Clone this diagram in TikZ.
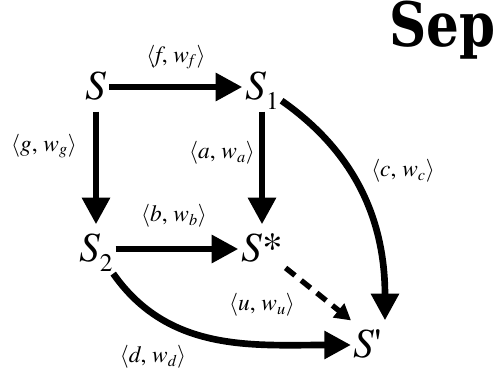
\documentclass[tikz,border=0pt]{standalone}
\usepackage{fontspec}
\setmainfont{texgyretermes}[Extension=.otf, UprightFont=*-regular, ItalicFont=*-italic, BoldFont=*-bold, BoldItalicFont=*-bolditalic, Ligatures=TeXOff]
\newfontfamily\slabfont{DejaVu Serif}
\usetikzlibrary{arrows.meta}
\newcommand{\wpair}[1]{$\langle$\textit{#1}, \textit{w}\textsubscript{\textit{#1}}$\rangle$}
\newcommand{\lowsub}[1]{\raisebox{-7.5pt}{\upshape\fontsize{19}{19}\selectfont #1}}

\begin{document}
\begin{tikzpicture}[x=0.75pt, y=-0.75pt,
  st/.style={font=\fontsize{31}{31}\selectfont\itshape, inner sep=2pt, text height=26pt, text depth=6.5pt},
  lbl/.style={font=\fontsize{17.5}{17.5}\selectfont, inner sep=1pt},
  arr/.style={line width=5pt, -{Triangle[length=20pt,width=20pt]}},
  darr/.style={line width=4pt, dash pattern=on 9pt off 6pt, -{Triangle[length=12pt,width=13pt]}}]

\useasboundingbox (0,0) rectangle (501,374);

% states
\node[st] (s) at (96,87) {S};
\node[st] (s1) at (262,87) {S\lowsub{1}};
\node[st] (s2) at (96,249) {S\lowsub{2}};
\node[st] (sstar) at (262,249) {S\upshape*};
\node[st] (sp) at (368,345) {S\upshape'};

% title at the top right corner
\node[font=\slabfont\bfseries\fontsize{46}{46}\selectfont, anchor=base west, inner sep=0pt] (sep) at (389,47) {\scalebox{0.84}[1]{Sep}};

% transitions
\draw[arr] (s) -- (s1);
\draw[arr] (s) -- (s2);
\draw[arr] (s1) -- (sstar);
\draw[arr] (s2) -- (sstar);
\draw[arr] (s1) to[out=-35, in=90] (sp.north east);
\draw[arr] (s2) to[out=-55, in=180] (sp);
\draw[darr] (sstar) -- (sp.north west);

% labels
\node[lbl] (lf) at (176,57) {\wpair{f}};
\node[lbl] (lg) at (44,146) {\wpair{g}};
\node[lbl] (la) at (222,153) {\wpair{a}};
\node[lbl] (lc) at (403,171) {\wpair{c}};
\node[lbl] (lb) at (174,216) {\wpair{b}};
\node[lbl] (lu) at (262,305) {\wpair{u}};
\node[lbl] (ld) at (153,357) {\wpair{d}};

\end{tikzpicture}
\end{document}
